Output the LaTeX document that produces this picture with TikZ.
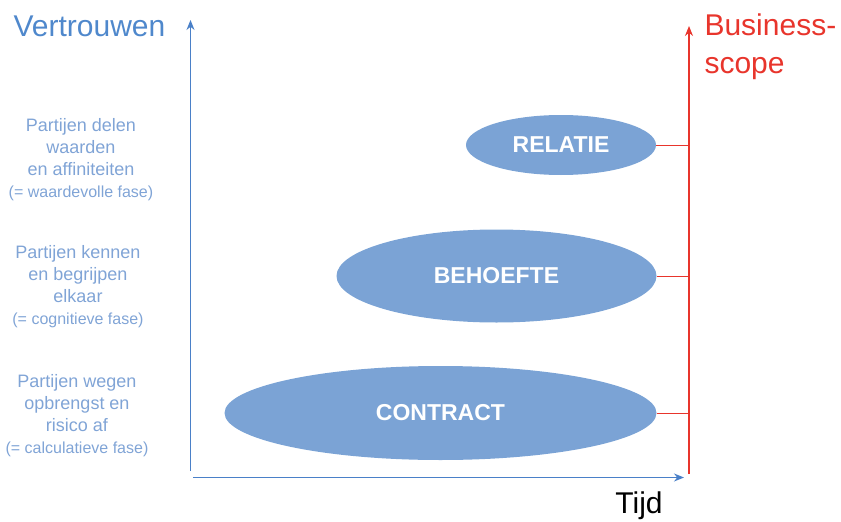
\documentclass[tikz,border=0pt]{standalone}
\usepackage{fontspec}
\setmainfont{Liberation Sans}
\usetikzlibrary{shapes.geometric,arrows.meta}
\definecolor{asblauw}{HTML}{4A80C8}
\definecolor{titelblauw}{HTML}{4F88CC}
\definecolor{faseblauw}{HTML}{7BA3D5}
\definecolor{tekstblauw}{HTML}{80A4D6}
\definecolor{scoperood}{HTML}{E8352C}
\tikzset{
  fase/.style={ellipse, fill=faseblauw, inner sep=0pt, text=white,
    font=\fontsize{23}{27}\selectfont\bfseries},
  uitleg/.style={align=center, text=tekstblauw, font=\fontsize{18}{22}\selectfont},
  koppel/.style={scoperood, line width=1pt},
}
\newcommand{\klein}[1]{{\fontsize{16}{22}\selectfont #1}}
\begin{document}
\begin{tikzpicture}[x=1pt, y=-1pt, line join=round, >={Stealth[length=10pt,width=8pt]}]
  \useasboundingbox (0,0) rectangle (841,522);
  % assen
  \draw[->, asblauw, line width=1.2pt] (190.5,471)--(190.5,20);
  \draw[->, asblauw, line width=1.2pt] (193,477.5)--(684,477.5);
  \draw[->, scoperood, line width=1.2pt] (689,474)--(689,26);
  \path
  (10,26) node[anchor=west, text=titelblauw, font=\fontsize{30}{36}\selectfont] (vertrouwen) {Vertrouwen}
  (701,46.5) node[anchor=west, align=left, text=scoperood, font=\fontsize{30}{38}\selectfont] (scope) {Business-\\scope}
  (639,506) node[font=\fontsize{30}{36}\selectfont] (tijd) {Tijd}
  ;
  % fasen
  \node[fase, minimum width=190pt, minimum height=60pt] (relatie) at (561,145) {RELATIE};
  \node[fase, minimum width=320pt, minimum height=93pt] (behoefte) at (496.5,276) {BEHOEFTE};
  \node[fase, minimum width=432pt, minimum height=94pt] (contract) at (440.5,413) {CONTRACT};
  \coordinate (r1) at (689,145);
  \coordinate (r2) at (689,276);
  \coordinate (r3) at (689,413);
  \draw[koppel] (relatie.east)--(r1);
  \draw[koppel] (behoefte.east)--(r2);
  \draw[koppel] (contract.east)--(r3);
  % uitleg links
  \node[uitleg] (waarde) at (81,160) {Partijen delen\\waarden\\en affiniteiten\\\klein{(= waardevolle fase)}};
  \node[uitleg] (cognitief) at (78,287) {Partijen kennen\\en begrijpen\\elkaar\\\klein{(= cognitieve fase)}};
  \node[uitleg] (calculatief) at (77,416) {Partijen wegen\\opbrengst en\\risico af\\\klein{(= calculatieve fase)}};
\end{tikzpicture}
\end{document}
